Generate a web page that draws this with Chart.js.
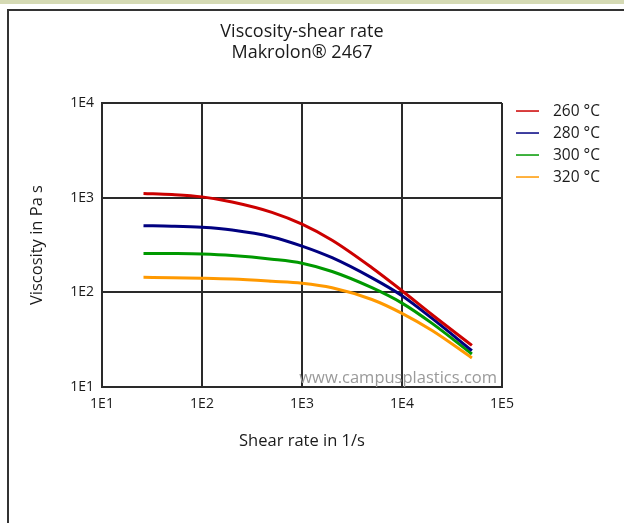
<!DOCTYPE html>
<html>
<head>
<meta charset="utf-8">
<script src="https://cdn.jsdelivr.net/npm/chart.js@4"></script>
<style>
  html, body { margin: 0; padding: 0; background: #ffffff; width: 624px; height: 523px; overflow: hidden; }
  #strip { position: absolute; left: 0; top: 0; width: 624px; height: 4px; background: #d5dab4; }
  #frame { position: absolute; left: 7px; top: 9px; width: 640px; height: 540px; border: 2px solid #333333; box-sizing: border-box; }
  #wrap { position: absolute; left: 0; top: 0; width: 624px; height: 523px; }
</style>
</head>
<body>
<div id="strip"></div>
<div id="frame"></div>
<div id="wrap"><canvas id="c" width="624" height="523"></canvas></div>
<script>
// ---- data ----
const shearRates = [26, 50, 100, 200, 500, 1000, 2000, 5000, 10000, 20000, 50000];
const visc260 = [1110, 1080, 1020, 900, 700, 525, 355, 182, 104, 58, 27.5];
const visc280 = [506, 500, 486, 455, 385, 308, 232, 142, 92, 53, 24.2];
const visc300 = [258, 257, 254, 245, 224, 203, 166, 112, 77, 47, 22.3];
const visc320 = [144, 143, 141, 138, 131, 125, 112, 84, 60, 39.5, 20.3];
const seriesLabels = ['260 °C', '280 °C', '300 °C', '320 °C'];
const seriesColors = ['#cc0000', '#000080', '#009900', '#ff9900'];
const xTickValues = [10, 100, 1000, 10000, 100000];
const yTickValues = [10, 100, 1000, 10000];
const titleLines = ['Viscosity-shear rate', 'Makrolon® 2467'];
const xTitle = 'Shear rate in 1/s';
const yTitle = 'Viscosity in Pa s';
const watermark = 'www.campusplastics.com';

const allSeries = [visc260, visc280, visc300, visc320];
const datasets = allSeries.map((vals, i) => ({
  label: seriesLabels[i],
  data: shearRates.map((x, j) => ({ x: x, y: vals[j] })),
  borderColor: seriesColors[i],
  backgroundColor: seriesColors[i],
  borderWidth: 3,
  pointRadius: 0,
  fill: false,
  cubicInterpolationMode: 'monotone'
}));

const FONT = "'Open Sans', 'Noto Sans', sans-serif";
Chart.defaults.font.family = FONT;
Chart.defaults.color = '#1a1a1a';

const expLabel = v => '1E' + Math.round(Math.log10(v));

const overlay = {
  id: 'overlay',
  afterDatasetsDraw(chart) {
    const ctx = chart.ctx;
    const a = chart.chartArea;
    ctx.save();
    // watermark
    ctx.font = "16.5px " + FONT;
    ctx.fillStyle = '#9a9a9a';
    ctx.textAlign = 'right';
    ctx.textBaseline = 'alphabetic';
    ctx.fillText(watermark, a.right - 5, a.bottom - 4);
    // legend
    const lx = a.right + 14;
    let ly = a.top + 8;
    ctx.font = "15.5px " + FONT;
    ctx.textAlign = 'left';
    ctx.textBaseline = 'middle';
    chart.data.datasets.forEach(ds => {
      ctx.strokeStyle = ds.borderColor;
      ctx.lineWidth = 1.5;
      ctx.beginPath();
      ctx.moveTo(lx, ly);
      ctx.lineTo(lx + 23, ly);
      ctx.stroke();
      ctx.fillStyle = '#1a1a1a';
      ctx.fillText(ds.label, lx + 37, ly + 1);
      ly += 22;
    });
    ctx.restore();
  }
};

new Chart(document.getElementById('c'), {
  type: 'line',
  data: { datasets: datasets },
  plugins: [overlay],
  options: {
    responsive: false,
    animation: false,
    layout: { padding: { left: 0, right: 122, top: 0, bottom: 0 } },
    plugins: {
      legend: { display: false },
      tooltip: { enabled: false },
      title: {
        display: true,
        text: titleLines,
        fullSize: false,
        color: '#1a1a1a',
        font: { size: 18, weight: 'normal', lineHeight: 1.17 },
        padding: { top: 21.5, bottom: 39.4 }
      }
    },
    scales: {
      x: {
        type: 'logarithmic',
        min: 10, max: 100000,
        afterBuildTicks: s => { s.ticks = xTickValues.map(v => ({ value: v })); },
        afterFit: s => { s.height = 136; },
        ticks: { callback: v => expLabel(v), font: { size: 14 }, padding: 9, maxRotation: 0, autoSkip: false },
        grid: { color: '#2a2a2a', lineWidth: 2, drawTicks: false },
        border: { color: '#2a2a2a', width: 2 },
        title: { display: true, text: xTitle, font: { size: 16.5, lineHeight: 1.2 }, padding: { top: 0, bottom: 72 } }
      },
      y: {
        type: 'logarithmic',
        min: 10, max: 10000,
        afterBuildTicks: s => { s.ticks = yTickValues.map(v => ({ value: v })); },
        afterFit: s => { s.width = 102; },
        ticks: { callback: v => expLabel(v), font: { size: 14 }, padding: 8, autoSkip: false },
        grid: { color: '#2a2a2a', lineWidth: 2, drawTicks: false },
        border: { color: '#2a2a2a', width: 2 },
        title: { display: true, text: yTitle, font: { size: 16.5, lineHeight: 1.2 }, padding: { top: 27, bottom: 0 } }
      }
    }
  }
});
</script>
</body>
</html>
